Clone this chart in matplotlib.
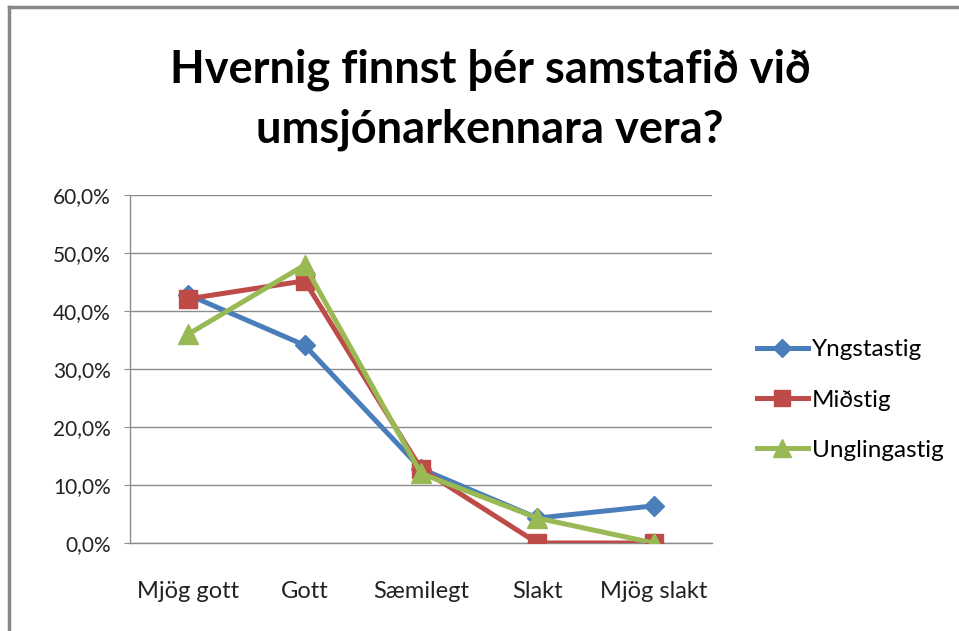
import matplotlib
matplotlib.use("Agg")
import matplotlib.pyplot as plt
from matplotlib.lines import Line2D
from matplotlib.ticker import FuncFormatter, MultipleLocator

categories = ["Mjög gott", "Gott", "Sæmilegt", "Slakt", "Mjög slakt"]
yngstastig = [42.8, 34.1, 12.8, 4.3, 6.4]
midstig = [42.1, 45.2, 12.8, 0.0, 0.0]
unglingastig = [36.0, 47.9, 12.0, 4.3, 0.0]
series_names = ["Yngstastig", "Miðstig", "Unglingastig"]

FONT = ["Lato", "DejaVu Sans"]
plt.rcParams['font.family'] = FONT

fig = plt.figure(figsize=(9.59, 6.31), dpi=100)
ax = fig.add_axes([130/959, 88/631, 582/959, 348/631])

colors = ["#4A7EBB", "#BE4B48", "#98B954"]
markers = ["D", "s", "^"]
msizes = [10, 13, 14]
data = [yngstastig, midstig, unglingastig]
x = list(range(len(categories)))
for vals, c, m, ms, name in zip(data, colors, markers, msizes, series_names):
    ax.plot(x, vals, color=c, lw=3.6, marker=m, markersize=ms,
            markeredgecolor=c, label=name, zorder=3)

ax.set_xlim(-0.5, 4.5)
ax.set_ylim(0, 60)
ax.yaxis.set_major_locator(MultipleLocator(10))
ax.yaxis.set_major_formatter(FuncFormatter(lambda v, p: f"{v:.1f}%".replace(".", ",")))
ax.set_xticks(x)
ax.set_xticklabels(categories)
ax.grid(axis='y', color="#8c8c8c", lw=1)
ax.set_axisbelow(True)
for s in ["top", "right"]:
    ax.spines[s].set_visible(False)
for s in ["left", "bottom"]:
    ax.spines[s].set_color("#8c8c8c")
    ax.spines[s].set_linewidth(1)
ax.tick_params(axis='y', length=4, color="#8c8c8c", labelsize=15, pad=10, labelcolor="#222222")
ax.tick_params(axis='x', length=0, labelsize=17, pad=27, labelcolor="#222222")

handles = [Line2D([0], [0], color=c, lw=3.6, marker=m, markersize=ms * 0.9, markeredgecolor=c)
           for c, m, ms in zip(colors, markers, msizes)]
fig.legend(handles, series_names, loc="center left", bbox_to_anchor=(735/959, 1 - 400/631),
           frameon=False, fontsize=17.5, handlelength=2.1, handletextpad=0.15,
           labelspacing=1.2)

fig.text(490/959, 1 - 70/631, "Hvernig finnst þér samstafið við", ha="center", va="center",
         fontsize=32.5, fontweight="bold")
fig.text(490/959, 1 - 130/631, "umsjónarkennara vera?", ha="center", va="center",
         fontsize=32.5, fontweight="bold")

# chart frame (top and left edges visible)
fig.add_artist(Line2D([9/959, 9/959], [0, 1 - 7/631], color="#888888", lw=2.5, transform=fig.transFigure))
fig.add_artist(Line2D([9/959, 1], [1 - 7/631, 1 - 7/631], color="#888888", lw=2.5, transform=fig.transFigure))

fig.savefig("out.png", dpi=100)
